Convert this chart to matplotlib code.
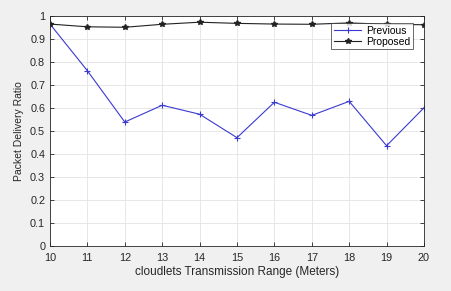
import matplotlib
matplotlib.use("Agg")
import matplotlib.pyplot as plt

plt.rcParams["font.family"] = ["Liberation Sans", "DejaVu Sans"]

ranges = [10, 11, 12, 13, 14, 15, 16, 17, 18, 19, 20]
previous = [0.965, 0.762, 0.539, 0.612, 0.573, 0.471, 0.625, 0.568, 0.629, 0.436, 0.601]
proposed = [0.965, 0.953, 0.951, 0.964, 0.973, 0.968, 0.965, 0.964, 0.970, 0.964, 0.962]
yticks = [0, 0.1, 0.2, 0.3, 0.4, 0.5, 0.6, 0.7, 0.8, 0.9, 1]

fig = plt.figure(figsize=(4.52, 2.91), dpi=100, facecolor="#f0f0f0")
ax = fig.add_axes([0.1106, 0.1546, 0.8274, 0.7904])
ax.set_facecolor("white")

ax.plot(ranges, previous, color="#3a3ad0", marker="+", markersize=5,
        linewidth=0.8, markeredgewidth=0.8, label="Previous")
ax.plot(ranges, proposed, color="#222222", marker="*", markersize=4,
        linewidth=0.8, label="Proposed")

ax.set_xlim(10, 20)
ax.set_ylim(0, 1)
ax.set_xticks(ranges)
ax.set_yticks(yticks)
ax.set_yticklabels(["0", "0.1", "0.2", "0.3", "0.4", "0.5", "0.6", "0.7", "0.8", "0.9", "1"])
ax.tick_params(direction="in", length=3, width=0.6, labelsize=7.8, colors="#262626",
               top=True, right=True, pad=3.5)
ax.tick_params(axis="x", pad=5)
ax.grid(True, color="#e3e3e3", linewidth=0.6)
for s in ax.spines.values():
    s.set_color("#262626")
    s.set_linewidth(0.6)

ax.set_xlabel("cloudlets Transmission Range (Meters)", fontsize=8.5, color="#262626",
              labelpad=2)
ax.set_ylabel("Packet Delivery Ratio", fontsize=7.5, color="#262626")

leg = ax.legend(loc="upper right", fontsize=7.5, frameon=True, fancybox=False,
                borderpad=0.25, handlelength=2.6, labelspacing=0.1,
                bbox_to_anchor=(0.971, 0.97), borderaxespad=0, handletextpad=0.5)
leg.get_frame().set_edgecolor("#262626")
leg.get_frame().set_linewidth(0.6)

fig.savefig("out.png", dpi=100, facecolor=fig.get_facecolor())
